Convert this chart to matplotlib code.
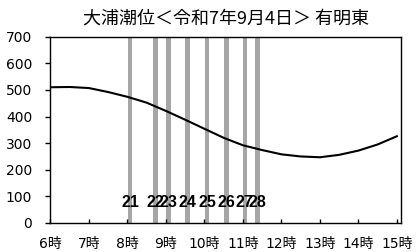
import numpy as np
import matplotlib
matplotlib.use('Agg')
import matplotlib.pyplot as plt

# 潮位 (30分毎)
hours = [6.0, 6.5, 7.0, 7.5, 8.0, 8.5, 9.0, 9.5, 10.0, 10.5,
         11.0, 11.5, 12.0, 12.5, 13.0, 13.5, 14.0, 14.5, 15.0]
tide = [510, 511, 507, 492, 474, 452, 421, 388, 354, 320,
        292, 274, 258, 250, 247, 256, 272, 295, 326]

# 番号付きの縦棒
bar_hours = [8 + 4/60, 8 + 44/60, 9 + 4/60, 9 + 34/60,
             10 + 4/60, 10 + 34/60, 11 + 3/60, 11 + 23/60]
bar_labels = ['21', '22', '23', '24', '25', '26', '27', '28']

xticks = list(range(6, 16))
xticklabels = [f'{h}時' for h in xticks]
yticks = list(range(0, 800, 100))

title = '大浦潮位＜令和7年9月4日＞ 有明東'

fig = plt.figure(figsize=(4.17, 2.52), dpi=100)
ax = fig.add_axes([0.1211, 0.1151, 0.8417, 0.7393])

ax.bar(bar_hours, [700] * len(bar_hours), width=0.122, color='#a6a6a6', zorder=1)
ax.plot(hours, tide, color='black', linewidth=1.5, zorder=2)
for h, lab in zip(bar_hours, bar_labels):
    ax.text(h, 77, lab, ha='center', va='center', fontsize=11.5, fontweight='bold',
            family=['Liberation Sans Narrow', 'Liberation Sans', 'DejaVu Sans'], zorder=3)

ax.set_xlim(6, 15.12)
ax.set_ylim(0, 700)
ax.set_xticks(xticks)
ax.set_xticklabels(xticklabels, family=['DejaVu Sans', 'Noto Sans CJK JP'], fontsize=10)
ax.set_yticks(yticks)
ax.set_yticklabels([str(v) for v in yticks], family=['DejaVu Sans'], fontsize=10)
ax.tick_params(axis='x', direction='in', length=3, width=1, pad=10)
ax.tick_params(axis='y', direction='out', length=3.6, width=1, pad=9.5)
for s in ax.spines.values():
    s.set_linewidth(1.0)
    s.set_color('black')

fig.text(0.542, 0.925, title, ha='center', va='center', fontsize=13,
         family=['Noto Sans CJK JP', 'DejaVu Sans'])

fig.savefig('out.png', dpi=100)
